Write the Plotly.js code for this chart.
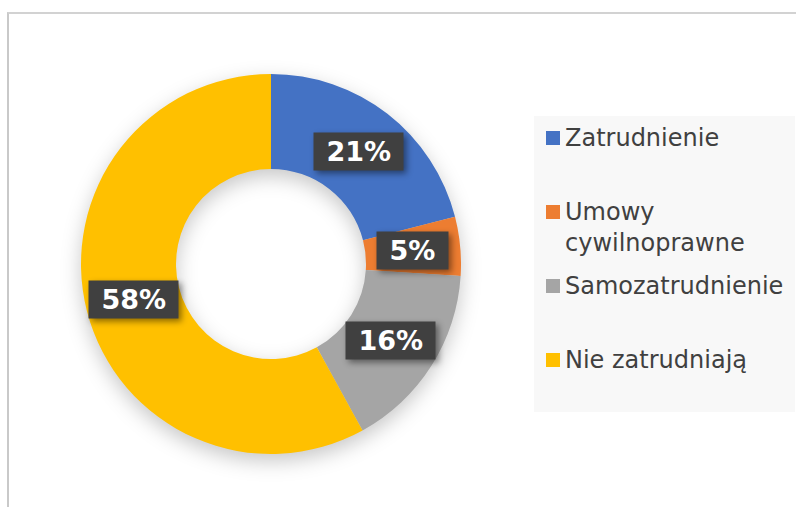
<!DOCTYPE html>
<html>
<head>
<meta charset="utf-8">
<script src="https://cdn.plot.ly/plotly-3.0.1.min.js"></script>
<style>
  html, body { margin:0; padding:0; background:#fff; }
  #wrap { position:relative; width:796px; height:507px; overflow:hidden; }
  #frame { position:absolute; left:7px; top:12px; width:800px; height:600px;
           border-left:2px solid #c9c9c9; border-top:2px solid #d2d2d2; box-sizing:border-box; }
  #chart { position:absolute; left:0; top:0; width:796px; height:507px; }
</style>
</head>
<body>
<div id="wrap">
  <div id="frame"></div>
  <div id="chart"></div>
</div>
<script>
const categories = ['Zatrudnienie', 'Umowy cywilnoprawne', 'Samozatrudnienie', 'Nie zatrudniają'];
const values = [21, 5, 16, 58];
const legendLabels = ['Zatrudnienie', 'Umowy<br>cywilnoprawne', 'Samozatrudnienie', 'Nie zatrudniają'];
const sliceColors = ['#4472C4', '#ED7D31', '#A5A5A5', '#FFC000'];

const W = 796, H = 507;
const CX = 271, CY = 264, R = 190, HOLE = 0.5;

const domainX = [(CX - R) / W, (CX + R) / W];
const domainY = [1 - (CY + R) / H, 1 - (CY - R) / H];

const total = values.reduce((a, b) => a + b, 0);
const annotations = [];
const shapes = [];

// data labels centred in each ring segment
let cum = 0;
const rMid = R * (1 + HOLE) / 2 - 0.5;
values.forEach((v, i) => {
  const theta = 2 * Math.PI * (cum + v / 2) / total;
  cum += v;
  const px = CX + rMid * Math.sin(theta);
  const py = CY - rMid * Math.cos(theta);
  annotations.push({
    xref: 'paper', yref: 'paper',
    x: px / W, y: 1 - py / H,
    xanchor: 'center', yanchor: 'middle',
    showarrow: false,
    text: '\u00a0' + Math.round(100 * v / total) + '%\u00a0',
    font: { family: 'DejaVu Sans', size: 27, color: '#ffffff', weight: 'bold' },
    bgcolor: '#404040',
    borderpad: 3
  });
});

// legend panel
const LX0 = 534, LX1 = 795, LY0 = 116, LY1 = 412;
shapes.push({
  type: 'rect', xref: 'paper', yref: 'paper', layer: 'below',
  x0: LX0 / W, x1: LX1 / W, y0: 1 - LY1 / H, y1: 1 - LY0 / H,
  fillcolor: '#f8f8f8', line: { width: 0 }
});
const itemTop = 138, itemStep = 74;
categories.forEach((c, i) => {
  const cy = itemTop + i * itemStep;
  shapes.push({
    type: 'rect', xref: 'paper', yref: 'paper',
    x0: 546 / W, x1: 560 / W, y0: 1 - (cy + 7) / H, y1: 1 - (cy - 7) / H,
    fillcolor: sliceColors[i], line: { width: 0 }
  });
  annotations.push({
    xref: 'paper', yref: 'paper',
    x: 563 / W, y: 1 - (cy - 16.5) / H,
    xanchor: 'left', yanchor: 'top', align: 'left',
    showarrow: false,
    text: legendLabels[i],
    font: { family: 'DejaVu Sans', size: 24, color: '#404040' }
  });
});

const data = [{
  type: 'pie',
  labels: categories,
  values: values,
  hole: HOLE,
  sort: false,
  direction: 'clockwise',
  rotation: 0,
  textinfo: 'none',
  hoverinfo: 'label+percent',
  marker: { colors: sliceColors, line: { width: 0 } },
  domain: { x: domainX, y: domainY },
  showlegend: false
}];

const layout = {
  width: W, height: H,
  margin: { l: 0, r: 0, t: 0, b: 0 },
  paper_bgcolor: 'rgba(0,0,0,0)',
  plot_bgcolor: 'rgba(0,0,0,0)',
  showlegend: false,
  annotations: annotations,
  shapes: shapes
};

Plotly.newPlot('chart', data, layout, { displayModeBar: false, staticPlot: true }).then(() => {
  document.querySelectorAll('.pielayer .trace').forEach(el => {
    el.style.filter = 'drop-shadow(0px 7px 10px rgba(0,0,0,0.22))';
  });
  document.querySelectorAll('.annotation').forEach((el, i) => {
    if (i < values.length) {
      const bg = el.querySelector('.bg');
      if (bg) bg.style.filter = 'drop-shadow(3px 3px 3px rgba(0,0,0,0.45))';
    }
  });
});
</script>
</body>
</html>
